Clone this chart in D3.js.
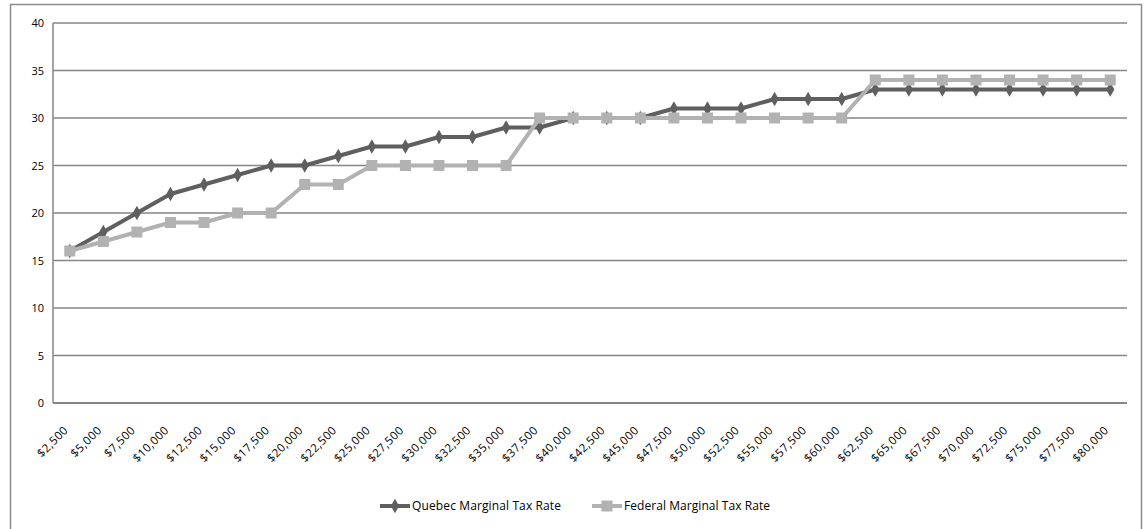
<!DOCTYPE html>
<html><head><meta charset="utf-8">
<script src="https://cdn.jsdelivr.net/npm/d3@7"></script>
<style>body{margin:0;background:#fff}svg{display:block}text{font-family:"Open Sans",sans-serif;fill:#000}</style>
</head><body><svg id="c" width="1147" height="529"></svg>
<script>
const categories = ["$2,500","$5,000","$7,500","$10,000","$12,500","$15,000","$17,500","$20,000","$22,500","$25,000","$27,500","$30,000","$32,500","$35,000","$37,500","$40,000","$42,500","$45,000","$47,500","$50,000","$52,500","$55,000","$57,500","$60,000","$62,500","$65,000","$67,500","$70,000","$72,500","$75,000","$77,500","$80,000"];
const quebec = [16,18,20,22,23,24,25,25,26,27,27,28,28,29,29,30,30,30,31,31,31,32,32,32,33,33,33,33,33,33,33,33];
const federal = [16,17,18,19,19,20,20,23,23,25,25,25,25,25,30,30,30,30,30,30,30,30,30,30,34,34,34,34,34,34,34,34];
const yTicks = [0,5,10,15,20,25,30,35,40];
const seriesNames = ["Quebec Marginal Tax Rate","Federal Marginal Tax Rate"];

const svg = d3.select("#c");
const L=53, R=1127, T=23, B=403;
svg.append("rect").attr("x",10.5).attr("y",4.5).attr("width",1131).attr("height",540)
  .attr("fill","none").attr("stroke","#8c8c8c").attr("stroke-width",1.5);

const x = d3.scaleBand().domain(categories).range([L,R]);
const y = d3.scaleLinear().domain([0,40]).range([B,T]);

svg.append("g").selectAll("line").data(yTicks.filter(d=>d>0)).join("line")
  .attr("x1",L).attr("x2",R).attr("y1",d=>y(d)).attr("y2",d=>y(d))
  .attr("stroke","#868686").attr("stroke-width",1.5);
svg.append("line").attr("x1",L).attr("x2",L).attr("y1",T).attr("y2",B).attr("stroke","#868686").attr("stroke-width",1.5);
svg.append("line").attr("x1",L).attr("x2",R).attr("y1",B).attr("y2",B).attr("stroke","#868686").attr("stroke-width",2);

svg.append("g").selectAll("text").data(yTicks).join("text")
  .attr("x",44).attr("y",d=>y(d)+4).attr("text-anchor","end").attr("font-size",11).text(d=>d);

svg.append("g").selectAll("text").data(categories).join("text")
  .attr("text-anchor","end").attr("font-size",11.5).attr("letter-spacing",0.4)
  .attr("transform",d=>`translate(${x(d)+x.bandwidth()/2-1},${B+28}) rotate(-45)`).text(d=>d);

const cx = (d,i)=>x(categories[i])+x.bandwidth()/2;
const line = d3.line().x((d,i)=>cx(d,i)).y(d=>y(d));

const qCol="#5f5f5f", fCol="#b2b2b2";
svg.append("path").datum(quebec).attr("d",line).attr("fill","none").attr("stroke",qCol).attr("stroke-width",4).attr("stroke-linejoin","round");
const diamond = d3.symbol().type(d3.symbolDiamond).size(60);
svg.append("g").selectAll("path").data(quebec).join("path")
  .attr("d",diamond).attr("transform",(d,i)=>`translate(${cx(d,i)},${y(d)})`).attr("fill",qCol);

svg.append("path").datum(federal).attr("d",line).attr("fill","none").attr("stroke",fCol).attr("stroke-width",4).attr("stroke-linejoin","round");
svg.append("g").selectAll("rect").data(federal).join("rect")
  .attr("x",(d,i)=>cx(d,i)-5.5).attr("y",d=>y(d)-5.5).attr("width",11).attr("height",11).attr("fill",fCol);

const lg = svg.append("g");
lg.append("line").attr("x1",380).attr("x2",410).attr("y1",506).attr("y2",506).attr("stroke",qCol).attr("stroke-width",4);
lg.append("path").attr("d",diamond).attr("transform","translate(395,506)").attr("fill",qCol);
lg.append("text").attr("x",412).attr("y",510).attr("font-size",12).attr("textLength",149).text(seriesNames[0]);
lg.append("line").attr("x1",592).attr("x2",622).attr("y1",506).attr("y2",506).attr("stroke",fCol).attr("stroke-width",4);
lg.append("rect").attr("x",601.5).attr("y",500.5).attr("width",11).attr("height",11).attr("fill",fCol);
lg.append("text").attr("x",624).attr("y",510).attr("font-size",12).attr("textLength",146).text(seriesNames[1]);
</script></body></html>
